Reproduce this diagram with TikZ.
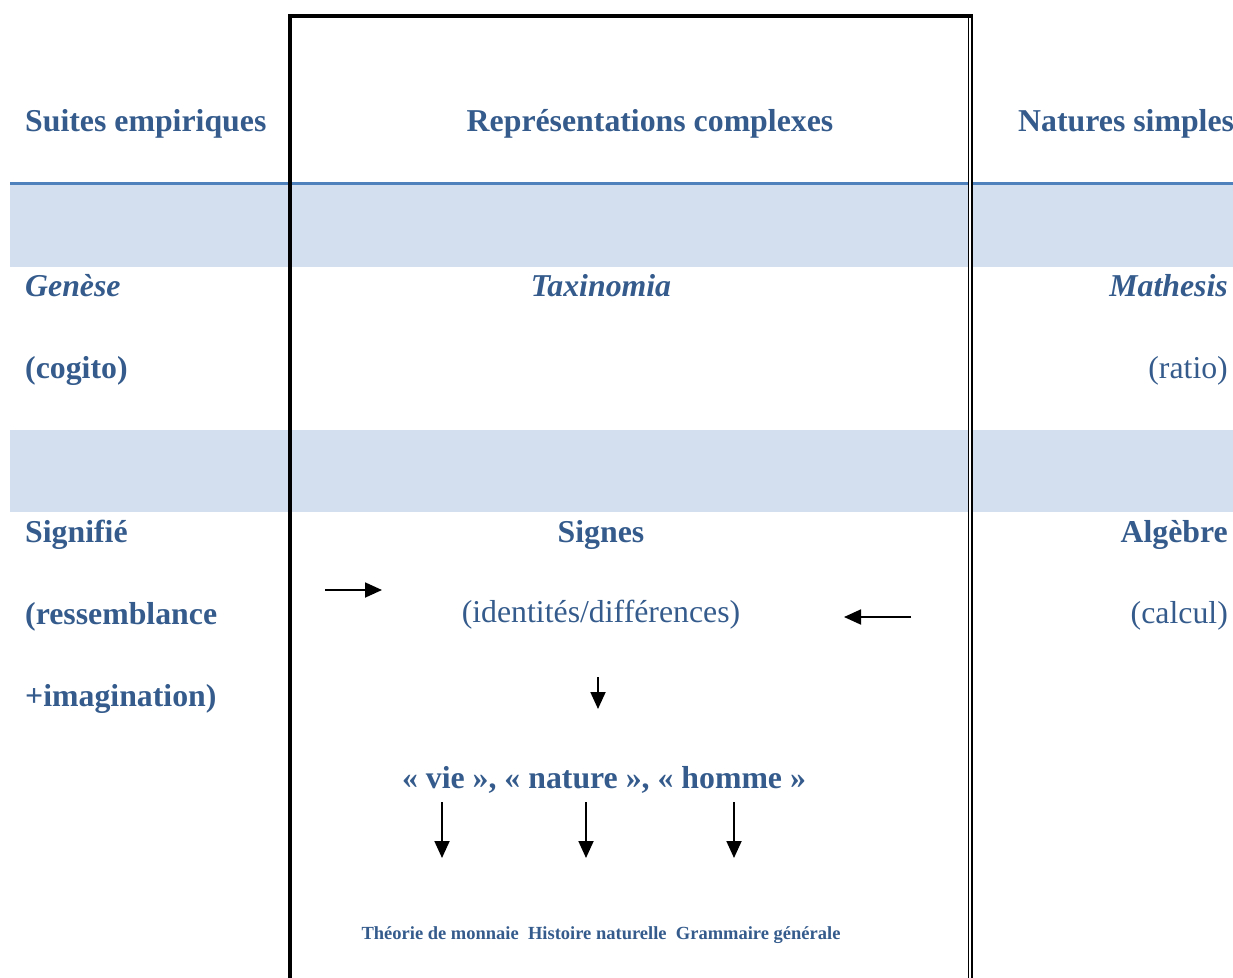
\documentclass[tikz,border=0pt]{standalone}
\usepackage{fontspec}
\setmainfont{Liberation Serif}
\usetikzlibrary{arrows.meta}
\definecolor{txtblue}{HTML}{345B8C}
\definecolor{lineblue}{HTML}{4F81BD}
\definecolor{bandblue}{HTML}{D3DFEE}
\tikzset{
  x=1pt, y=-1pt,
  lbl/.style={inner sep=0pt, text=txtblue, font=\fontsize{31.8}{36}\selectfont},
  lblb/.style={lbl, font=\fontsize{31.8}{36}\selectfont\bfseries},
  lblbi/.style={lbl, font=\fontsize{31.8}{36}\selectfont\bfseries\itshape},
  small/.style={inner sep=0pt, text=txtblue, font=\fontsize{18.5}{22}\selectfont\bfseries},
  arr/.style={line width=1.8pt, -{Triangle[length=17pt,width=15pt]}},
}
\begin{document}
\begin{tikzpicture}
\useasboundingbox (0,0) rectangle (1233,977);
% bands
\fill[bandblue] (10,185) rectangle (1233,267);
\fill[bandblue] (10,430) rectangle (1233,512);
\draw[lineblue, line width=3pt] (10,183.5) -- (1233,183.5);
% box
\fill[white] (969.4,14) rectangle (971.3,980);
\draw[line width=4pt] (290,980) -- (290,16) -- (972.9,16);
\draw[line width=1.8pt] (968.5,16) -- (968.5,980);
\draw[line width=1.8pt] (972.1,16) -- (972.1,980);
% header row
\node[lblb, anchor=base west] (suites) at (25,131) {Suites empiriques};
\node[lblb, anchor=base] (repr) at (650,131) {Représentations complexes};
\node[lblb, anchor=base west] (natures) at (1018,131) {Natures simples};
% row 2
\node[lblbi, anchor=base west] (genese) at (25,296) {Genèse};
\node[lblbi, anchor=base] (taxi) at (601,296) {Taxinomia};
\node[lblbi, anchor=base east] (mathesis) at (1228,296) {Mathesis};
\node[lblb, anchor=base west] (cogito) at (25,378) {(cogito)};
\node[lbl, anchor=base east] (ratio) at (1228,378) {(ratio)};
% row 3
\node[lblb, anchor=base west] (signifie) at (25,542) {Signifié};
\node[lblb, anchor=base] (signes) at (601,542) {Signes};
\node[lblb, anchor=base east] (algebre) at (1228,542) {Algèbre};
\node[lblb, anchor=base west] (ressem) at (25,624) {(ressemblance};
\node[lbl, anchor=base] (ident) at (601,622) {(identités/différences)};
\node[lbl, anchor=base east] (calcul) at (1228,623) {(calcul)};
\node[lblb, anchor=base west] (imag) at (25,706) {+imagination)};
\node[lblb, anchor=base] (vie) at (604,788) {«~vie~», «~nature~», «~homme~»};
\node[small, anchor=base] (theorie) at (601,939) {Théorie de monnaie\ \ Histoire naturelle\ \ Grammaire générale};
% arrows
\coordinate (a1s) at (325,590); \coordinate (a1e) at (382,590);
\coordinate (a2s) at (911,617); \coordinate (a2e) at (844,617);
\coordinate (a3s) at (598,677); \coordinate (a3e) at (598,709);
\coordinate (d1s) at (442,802); \coordinate (d1e) at (442,858);
\coordinate (d2s) at (586,802); \coordinate (d2e) at (586,858);
\coordinate (d3s) at (734,802); \coordinate (d3e) at (734,858);
\draw[arr] (a1s) -- (a1e);
\draw[arr] (a2s) -- (a2e);
\draw[arr] (a3s) -- (a3e);
\draw[arr] (d1s) -- (d1e);
\draw[arr] (d2s) -- (d2e);
\draw[arr] (d3s) -- (d3e);
\end{tikzpicture}
\end{document}
